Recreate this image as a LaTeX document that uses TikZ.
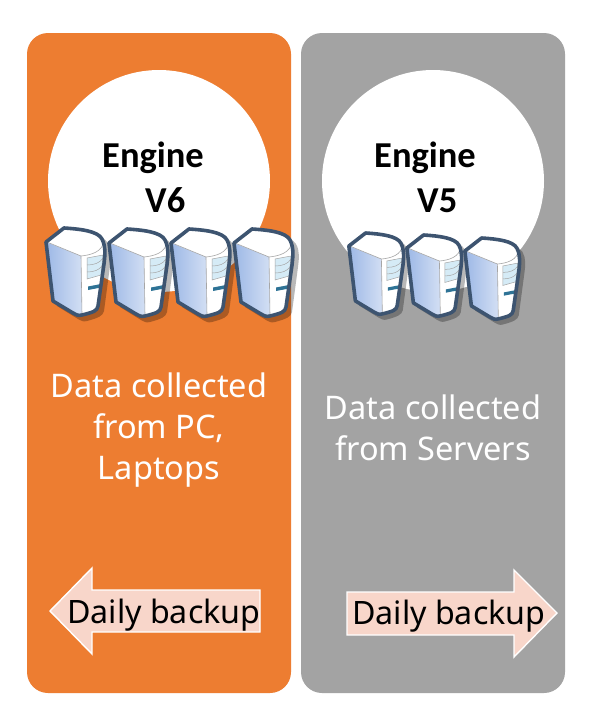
\documentclass[tikz,border=0pt]{standalone}
\usepackage{fontspec}
\setmainfont{Noto Sans}
\newfontfamily\enginefont{Carlito}
\definecolor{orangep}{HTML}{ED7D31}
\definecolor{grayp}{HTML}{A3A3A3}
\definecolor{peach}{HTML}{F8D6CA}
\definecolor{srvline}{HTML}{3D5470}
\definecolor{srvblue}{HTML}{9DB8E6}
\definecolor{srvpale}{HTML}{D5EBF6}
\definecolor{srvslot}{HTML}{2E7396}
\tikzset{
  panel/.style={rounded corners=21pt,draw=none},
  disc/.style={circle,fill=white,draw=none,minimum size=222pt,inner sep=0pt},
  engine/.style={font=\enginefont\bfseries\fontsize{36.5}{40}\selectfont,text=black,inner sep=0pt,anchor=base west},
  body/.style={font=\fontsize{32.5}{41}\selectfont,text=white,align=center,inner sep=0pt},
  backup/.style={font=\fontsize{32.2}{38}\selectfont,text=black,inner sep=0pt,anchor=base west},
  arrowshape/.style={fill=peach,draw=white,line width=1.4pt,line join=miter},
  pics/server/.style={code={
    \path[fill=black,fill opacity=.28] (25,3)..controls (41,4) and (58,6)..(64,15)..controls (68,22) and (67,30)..(66,38)--(60,83)..controls (59,88) and (54,90)..(43,93)..controls (39,94) and (38,93)..(34,91)--(13,78)--(6,18)--(25,3)--cycle;
    \path[fill=white] (20,0)..controls (36,1) and (54,3)..(58,11)..controls (62,19) and (61,27)..(60,36)--(54,78)..controls (53,83) and (50,84)..(38,87)..controls (34,88) and (33,87)..(29,85)--(9,73)--(2,14)--cycle;
    \path[left color=srvblue,right color=srvblue!45!white] (2,14)--(37,28)--(38,86)--(29,85)--(9,73)--cycle;
    \draw[gray!70,line width=.6pt] (3,14)--(37,28)--(38,86);
    \draw[gray!70,line width=.6pt] (37,28)..controls (47,27) and (59,24)..(60,12);
    \path[fill=srvpale,draw=gray!70,line width=.5pt] (43,30)--(59,27)--(57,47)--(43,51)--cycle;
    \draw[gray!70,line width=.5pt] (43,37)..controls (50,37) and (56,35)..(59,30);
    \draw[gray!70,line width=.5pt] (43,44)..controls (50,44) and (55,42)..(58,38);
    \path[fill=srvslot] (44,58.5)--(57,56)--(57,59.5)--(44,62)--cycle;
    \draw[srvline,line width=3.6pt,line join=round] (20,0)..controls (36,1) and (54,3)..(58,11)..controls (62,19) and (61,27)..(60,36)--(54,78)..controls (53,83) and (50,84)..(38,87)..controls (34,88) and (33,87)..(29,85)--(9,73)--(2,14)--cycle;
  }}
}
\begin{document}
\begin{tikzpicture}[x=1pt,y=-1pt]
\useasboundingbox (0,0) rectangle (608,720);
\fill[white] (0,0) rectangle (608,720);
\path[panel,fill=orangep] (27,33) rectangle (291,693);
\path[panel,fill=grayp] (301,33) rectangle (565,693);
\node[disc] (discA) at (159,181) {};
\node[disc] (discB) at (433,181) {};
\node[engine] (engA) at (102,167) {Engine};
\node[engine] (vA) at (145,212) {V6};
\node[engine] (engB) at (374,167) {Engine};
\node[engine] (vB) at (417,212) {V5};
\foreach \n/\x/\y in {a/44/228,b/107/229,c/169/229,d/232/229}
  \pic (\n) at (\x,\y) {server};
\foreach \n/\x/\y in {e/347/233,f/405/235,g/463/238}
  \pic[scale=.93] (\n) at (\x,\y) {server};
\node[body] (txtA) at (159,430) {Data collected\\from PC,\\Laptops};
\node[body] (txtB) at (433,428) {Data collected\\from Servers};
\draw[arrowshape] (50,611)--(92,568)--(92,590)--(260,590)--(260,632)--(92,632)--(92,654)--cycle;
\draw[arrowshape] (557,613)--(514,570)--(514,592)--(347,592)--(347,635)--(514,635)--(514,657)--cycle;
\node[backup] (bkA) at (67,623) {Daily backup};
\node[backup] (bkB) at (352,624) {Daily backup};
\end{tikzpicture}
\end{document}
